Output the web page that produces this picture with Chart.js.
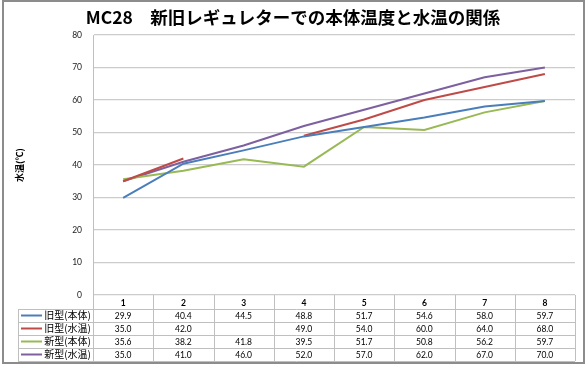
<!DOCTYPE html>
<html>
<head>
<meta charset="utf-8">
<script src="https://cdn.jsdelivr.net/npm/chart.js@4"></script>
<style>
  html, body { margin: 0; padding: 0; background: #fff; }
  #wrap { width: 586px; height: 365px; }
</style>
</head>
<body>
<div id="wrap"><canvas id="chart" width="586" height="365"></canvas></div>
<script>
// data
const categories = ["1", "2", "3", "4", "5", "6", "7", "8"];
const oldBody = [29.9, 40.4, 44.5, 48.8, 51.7, 54.6, 58.0, 59.7];
const oldWater = [35.0, 42.0, null, 49.0, 54.0, 60.0, 64.0, 68.0];
const newBody = [35.6, 38.2, 41.8, 39.5, 51.7, 50.8, 56.2, 59.7];
const newWater = [35.0, 41.0, 46.0, 52.0, 57.0, 62.0, 67.0, 70.0];
const seriesNames = ["旧型(本体)", "旧型(水温)", "新型(本体)", "新型(水温)"];
const seriesColors = ["#4a7ebb", "#be4b48", "#98b954", "#7d60a0"];
const yMin = 0, yMax = 80, yStep = 10;

const JP = "'Noto Sans CJK JP', 'Noto Sans', sans-serif";
const NUM = "Lato, 'Noto Sans', sans-serif";

const ROW_H = 13;
const TABLE_LEFT = 18;

// frame + data table under the plot
const tablePlugin = {
  id: "dataTable",
  beforeDraw(chart) {
    const c = chart.ctx;
    c.save();
    c.fillStyle = "#fff";
    c.fillRect(0, 0, chart.width, chart.height);
    c.restore();
  },
  afterDraw(chart) {
    const c = chart.ctx;
    const x = chart.scales.x;
    const area = chart.chartArea;
    const top = x.bottom; // header row bottom
    const half = (x.getPixelForValue(1) - x.getPixelForValue(0)) / 2;
    const rows = chart.data.datasets.length;
    const bottom = top + rows * ROW_H;

    c.save();
    c.strokeStyle = "#bfbfbf";
    c.lineWidth = 1;
    c.beginPath();
    for (let r = 0; r <= rows; r++) {
      const y = Math.round(top + r * ROW_H) + 0.5;
      c.moveTo(TABLE_LEFT, y);
      c.lineTo(area.right, y);
    }
    c.moveTo(TABLE_LEFT + 0.5, top);
    c.lineTo(TABLE_LEFT + 0.5, bottom);
    c.moveTo(Math.round(area.left) + 0.5, area.bottom);
    c.lineTo(Math.round(area.left) + 0.5, bottom);
    for (let i = 0; i < categories.length; i++) {
      const xr = Math.round(x.getPixelForValue(i) + half) + 0.5;
      c.moveTo(xr, area.bottom);
      c.lineTo(xr, bottom);
    }
    c.stroke();

    chart.data.datasets.forEach((ds, r) => {
      const cy = top + r * ROW_H + ROW_H / 2;
      // legend key
      c.strokeStyle = ds.borderColor;
      c.lineWidth = 2;
      c.beginPath();
      c.moveTo(21, cy);
      c.lineTo(42, cy);
      c.stroke();
      c.fillStyle = "#000";
      c.font = "10px " + JP;
      c.textAlign = "right";
      c.textBaseline = "middle";
      c.fillText(ds.label, area.left - 2, cy);
      // values
      c.font = "8.5px " + NUM;
      c.textAlign = "center";
      ds.data.forEach((v, i) => {
        if (v === null) return;
        c.fillText(v.toFixed(1), x.getPixelForValue(i), cy + 0.5);
      });
    });

    // outer frame
    c.strokeStyle = "#8c8c8c";
    c.lineWidth = 2;
    c.strokeRect(3, 1, chart.width - 5, chart.height - 3);
    c.restore();
  }
};

const allSeries = [oldBody, oldWater, newBody, newWater];

new Chart(document.getElementById("chart").getContext("2d"), {
  type: "line",
  data: {
    labels: categories,
    datasets: allSeries.map((d, i) => ({
      label: seriesNames[i],
      data: d,
      borderColor: seriesColors[i],
      backgroundColor: seriesColors[i],
      borderWidth: 2,
      pointRadius: 0,
      tension: 0,
      spanGaps: false
    }))
  },
  options: {
    responsive: false,
    animation: false,
    layout: { padding: { left: 11, right: 11, top: 0, bottom: 56 } },
    plugins: {
      legend: { display: false },
      tooltip: { enabled: false },
      title: {
        display: true,
        text: "MC28　新旧レギュレターでの本体温度と水温の関係",
        color: "#000",
        font: { family: JP, size: 17.5, weight: "bold" },
        padding: { top: 7, bottom: 7 }
      }
    },
    scales: {
      x: {
        offset: true,
        grid: { display: false, drawTicks: false },
        border: { display: false },
        ticks: { color: "#000", font: { family: NUM, size: 8.5, weight: "bold" }, padding: 3, maxRotation: 0 },
        afterFit(s) { s.height = 14; }
      },
      y: {
        min: yMin,
        max: yMax,
        grid: { color: "#cccccc", lineWidth: 1.3, drawTicks: false },
        border: { display: true, color: "#bfbfbf" },
        ticks: { stepSize: yStep, color: "#222", font: { family: NUM, size: 8.5 }, padding: 11 },
        title: {
          display: true,
          text: "水温(℃)",
          color: "#000",
          font: { family: JP, size: 9, weight: "bold" },
          padding: { top: 3, bottom: 0 }
        },
        afterFit(s) { s.width = 82; }
      }
    }
  },
  plugins: [tablePlugin]
});
</script>
</body>
</html>
